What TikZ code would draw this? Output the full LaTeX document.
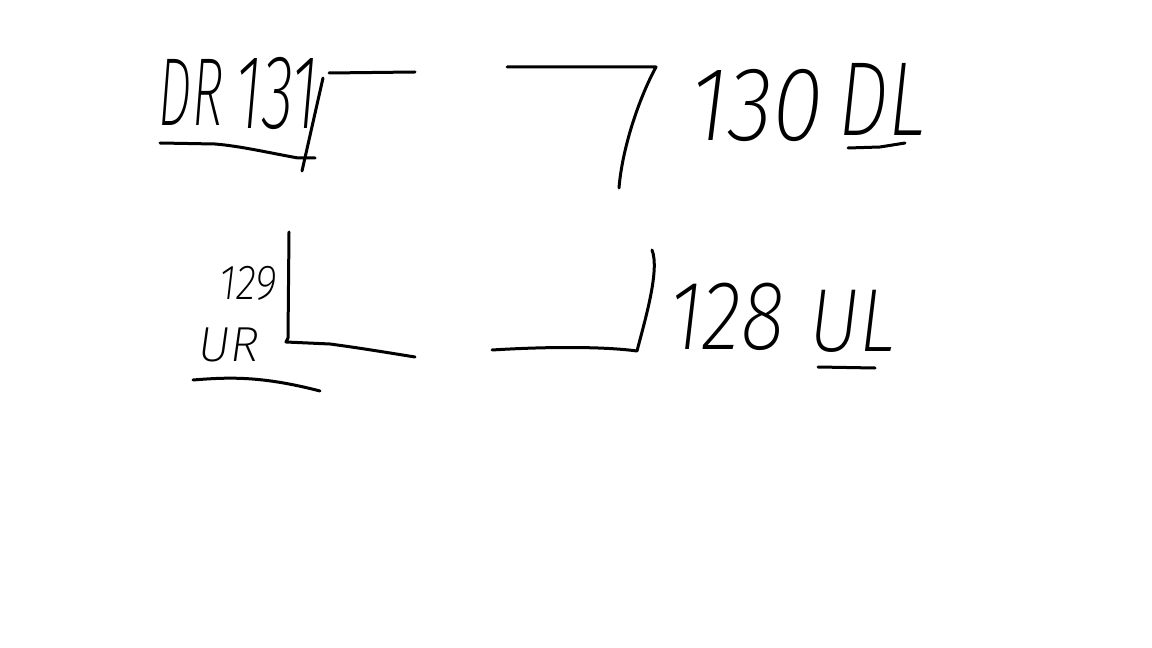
\documentclass[tikz,border=0pt]{standalone}
\usepackage{graphicx}
\usepackage{fontspec}
\newfontfamily\hand{Fira Sans}[UprightFont={* ExtraLight}, ItalicFont={* ExtraLight Italic}]
\newcommand\hwt[3]{\fontsize{#1}{#1}\selectfont\scalebox{#2}[1]{#3}}
\tikzset{
  hw/.style={inner sep=0pt, outer sep=0pt, anchor=center, font=\hand\itshape},
  pen/.style={line width=0.06cm, line cap=round, line join=round, black}
}
\begin{document}
\begin{tikzpicture}[x=0.02cm, y=-0.02cm]
\fill[white] (0,0) rectangle (1152,648);
\useasboundingbox (0,0) rectangle (1152,648);

% labels
\node[hw] (dr)   at (191,92)  {\hwt{55}{0.55}{DR}};
\node[hw] (n131) at (277,94)  {\hwt{60}{0.62}{131}};
\node[hw] (n130) at (757,106) {\hwt{60}{0.88}{130}};
\node[hw] (dl)   at (882,99)  {\hwt{60}{0.76}{DL}};
\node[hw] (n129) at (248,283) {\hwt{28}{0.85}{129}};
\node[hw] (ur)   at (229,345) {\hwt{28}{1.0}{UR}};
\node[hw] (n128) at (727,317) {\hwt{56}{0.83}{128}};
\node[hw] (ul)   at (852,321) {\hwt{51}{0.86}{UL}};

% top-left corner
\coordinate (tlA) at (302,171);
\coordinate (tlB) at (323,78);
\coordinate (tlC) at (329,73);
\coordinate (tlD) at (415,72);
\draw[pen] (tlA) -- (tlB);
\draw[pen] (tlC) -- (tlD);

% DR underline
\draw[pen] (160,143) -- (215,144) .. controls (240,146) and (270,153) .. (298,158) -- (315,158);

% top-right corner
\coordinate (trA) at (507,67);
\coordinate (trB) at (656,67);
\coordinate (trC) at (619,188);
\draw[pen] (trA) -- (trB) .. controls (638,100) and (622,150) .. (trC);

% DL underline
\draw[pen] (848,148) -- (880,147) -- (905,143);

% bottom-left corner
\coordinate (blA) at (289,232);
\coordinate (blB) at (286,342);
\coordinate (blC) at (415,357);
\draw[pen] (blA) -- (288,338) -- (blB) -- (330,344) .. controls (360,348) and (390,353) .. (blC);

% UR underline
\draw[pen] (193,380) .. controls (230,377) and (262,376) .. (320,391);

% bottom-right corner
\coordinate (brA) at (492,350);
\coordinate (brB) at (637,351);
\coordinate (brC) at (652,250);
\draw[pen] (brA) .. controls (540,347) and (600,346) .. (brB) .. controls (645,320) and (660,270) .. (brC);

% UL underline
\draw[pen] (818,367) -- (875,368);
\end{tikzpicture}
\end{document}
